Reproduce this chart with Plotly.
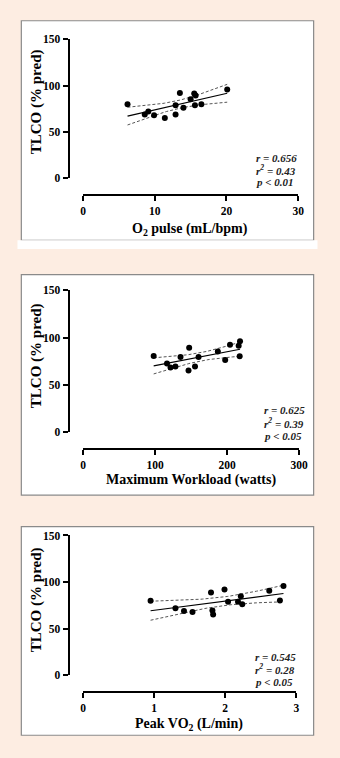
import numpy as np
import plotly.graph_objects as go

W, H = 340, 758

# ---------------- data ----------------
o2_pulse = [6.2, 8.6, 9.1, 9.9, 11.4, 12.9, 12.9, 13.5, 14.0, 15.0, 15.5, 15.7, 15.6, 16.5, 20.1]
tlco_1 = [80.1, 68.8, 72.0, 68.0, 65.2, 68.8, 79.0, 92.2, 76.3, 85.4, 91.5, 89.4, 79.0, 80.1, 96.0]

workload = [98, 116.5, 121.4, 128.2, 135.3, 146.4, 147.3, 155.4, 160.3, 187.1, 197.3, 204, 216, 217.9, 217.4]
tlco_2 = [80.5, 72.6, 68.4, 69.5, 79.5, 65.3, 89.3, 69.5, 79.5, 85.4, 76.4, 92.4, 91.4, 96.1, 80.2]

peak_vo2 = [0.95, 1.30, 1.42, 1.54, 1.80, 1.82, 1.83, 1.99, 2.04, 2.18, 2.22, 2.24, 2.62, 2.77, 2.82]
tlco_3 = [80.0, 71.8, 69.0, 67.9, 88.7, 69.4, 65.2, 91.9, 78.9, 78.9, 84.8, 76.1, 90.8, 80.3, 95.8]

x_titles = ["O<sub>2</sub> pulse (mL/bpm)", "Maximum Workload (watts)", "Peak VO<sub>2</sub> (L/min)"]
y_title = "TLCO (% pred)"
x_ranges = [[0, 30], [0, 300], [0, 3]]
x_ticks = [[0, 10, 20, 30], [0, 100, 200, 300], [0, 1, 2, 3]]
y_ticks = [0, 50, 100, 150]
stats = [["r = 0.656", "r<sup>2</sup> = 0.43", "p < 0.01"],
         ["r = 0.625", "r<sup>2</sup> = 0.39", "p < 0.05"],
         ["r = 0.545", "r<sup>2</sup> = 0.28", "p < 0.05"]]

T_CRIT = 2.160  # t(0.975, df=13)

# ---------------- layout geometry (pixels) ----------------
panels = [
    dict(box=(19, 15, 322, 238), strip=(15, 238, 326, 247), xd=(83, 306), yd=(175, 34), xline=192, yax=68,
         ytitle=(35, 97), xtitle=(194, 227), stat=(260, 154, 12.5)),
    dict(box=(19, 273, 322, 497), strip=None, xd=(83, 307), yd=(433, 289), xline=450, yax=68,
         ytitle=(35, 355), xtitle=(195, 482), stat=(268, 411, 13)),
    dict(box=(19, 529, 322, 741), strip=None, xd=(83, 304), yd=(680, 538), xline=697, yax=68,
         ytitle=(35, 603), xtitle=(193, 730), stat=(259, 661, 13)),
]

xs_all = [o2_pulse, workload, peak_vo2]
ys_all = [tlco_1, tlco_2, tlco_3]

FONT = "Liberation Serif"
fig = go.Figure()
shapes = []
annotations = []
layout_axes = {}


def px_x(v):
    return v / W


def px_y(v):
    return 1 - v / H


for i, p in enumerate(panels):
    n = i + 1
    xa = "x" if n == 1 else f"x{n}"
    ya = "y" if n == 1 else f"y{n}"
    xs = np.array(xs_all[i], dtype=float)
    ys = np.array(ys_all[i], dtype=float)

    # background boxes
    x0, y0, x1, y1 = p["box"]
    shapes.append(dict(type="rect", xref="paper", yref="paper", layer="below",
                       x0=px_x(x0), x1=px_x(x1), y0=px_y(y1), y1=px_y(y0),
                       fillcolor="white", line=dict(color="#8a8a8a", width=1.2)))
    if p["strip"]:
        sx0, sy0, sx1, sy1 = p["strip"]
        shapes.append(dict(type="rect", xref="paper", yref="paper", layer="below",
                           x0=px_x(sx0), x1=px_x(sx1), y0=px_y(sy1), y1=px_y(sy0),
                           fillcolor="white", line=dict(width=0)))

    # regression + 95% CI
    slope, intercept = np.polyfit(xs, ys, 1)
    xx = np.linspace(xs.min(), xs.max(), 60)
    yy = slope * xx + intercept
    nobs = len(xs)
    resid = ys - (slope * xs + intercept)
    s = np.sqrt(np.sum(resid ** 2) / (nobs - 2))
    sxx = np.sum((xs - xs.mean()) ** 2)
    se = s * np.sqrt(1 / nobs + (xx - xs.mean()) ** 2 / sxx)
    lo = yy - T_CRIT * se
    hi = yy + T_CRIT * se

    for band in (lo, hi):
        fig.add_trace(go.Scatter(x=xx, y=band, mode="lines", xaxis=xa, yaxis=ya,
                                 line=dict(color="#555555", width=1, dash="3px,2px"),
                                 showlegend=False, hoverinfo="skip"))
    fig.add_trace(go.Scatter(x=xx, y=yy, mode="lines", xaxis=xa, yaxis=ya,
                             line=dict(color="black", width=1.2), showlegend=False))
    fig.add_trace(go.Scatter(x=xs, y=ys, mode="markers", xaxis=xa, yaxis=ya,
                             marker=dict(color="black", size=6), showlegend=False))

    axfont = dict(family=FONT, size=11.5, color="black", weight="bold")
    layout_axes[f"xaxis{'' if n == 1 else n}"] = dict(
        domain=[px_x(p["xd"][0]), px_x(p["xd"][1])], range=x_ranges[i],
        anchor="free", position=px_y(p["xline"]),
        tickvals=x_ticks[i], ticks="outside", ticklen=5, tickwidth=2, tickcolor="black",
        showline=True, linecolor="black", linewidth=2, showgrid=False, zeroline=False,
        tickfont=axfont, fixedrange=True)
    layout_axes[f"yaxis{'' if n == 1 else n}"] = dict(
        domain=[px_y(p["yd"][0]), px_y(p["yd"][1])], range=[0, 150],
        anchor="free", position=px_x(p["yax"]),
        tickvals=y_ticks, ticks="outside", ticklen=5, tickwidth=2, tickcolor="black",
        showline=True, linecolor="black", linewidth=2, showgrid=False, zeroline=False,
        tickfont=axfont, fixedrange=True)

    # titles
    annotations.append(dict(xref="paper", yref="paper", x=px_x(p["ytitle"][0]), y=px_y(p["ytitle"][1]),
                            text=f"<b>{y_title}</b>", textangle=-90, showarrow=False,
                            font=dict(family=FONT, size=15, color="black"),
                            xanchor="center", yanchor="middle"))
    annotations.append(dict(xref="paper", yref="paper", x=px_x(p["xtitle"][0]), y=px_y(p["xtitle"][1]),
                            text=f"<b>{x_titles[i]}</b>", showarrow=False,
                            font=dict(family=FONT, size=14, color="black"),
                            xanchor="center", yanchor="middle"))
    sx, sy, dy = p["stat"]
    for k, t in enumerate(stats[i]):
        annotations.append(dict(xref="paper", yref="paper", x=px_x(sx), y=px_y(sy + k * dy),
                                text=f"<b><i>{t}</i></b>", showarrow=False,
                                font=dict(family=FONT, size=11, color="#222222"),
                                xanchor="left", yanchor="middle"))

fig.update_layout(
    width=W, height=H, margin=dict(l=0, r=0, t=0, b=0),
    paper_bgcolor="#FDEDE2", plot_bgcolor="rgba(0,0,0,0)",
    shapes=shapes, annotations=annotations, showlegend=False,
    **layout_axes,
)

fig.write_html("out.html", config={"displayModeBar": False})
